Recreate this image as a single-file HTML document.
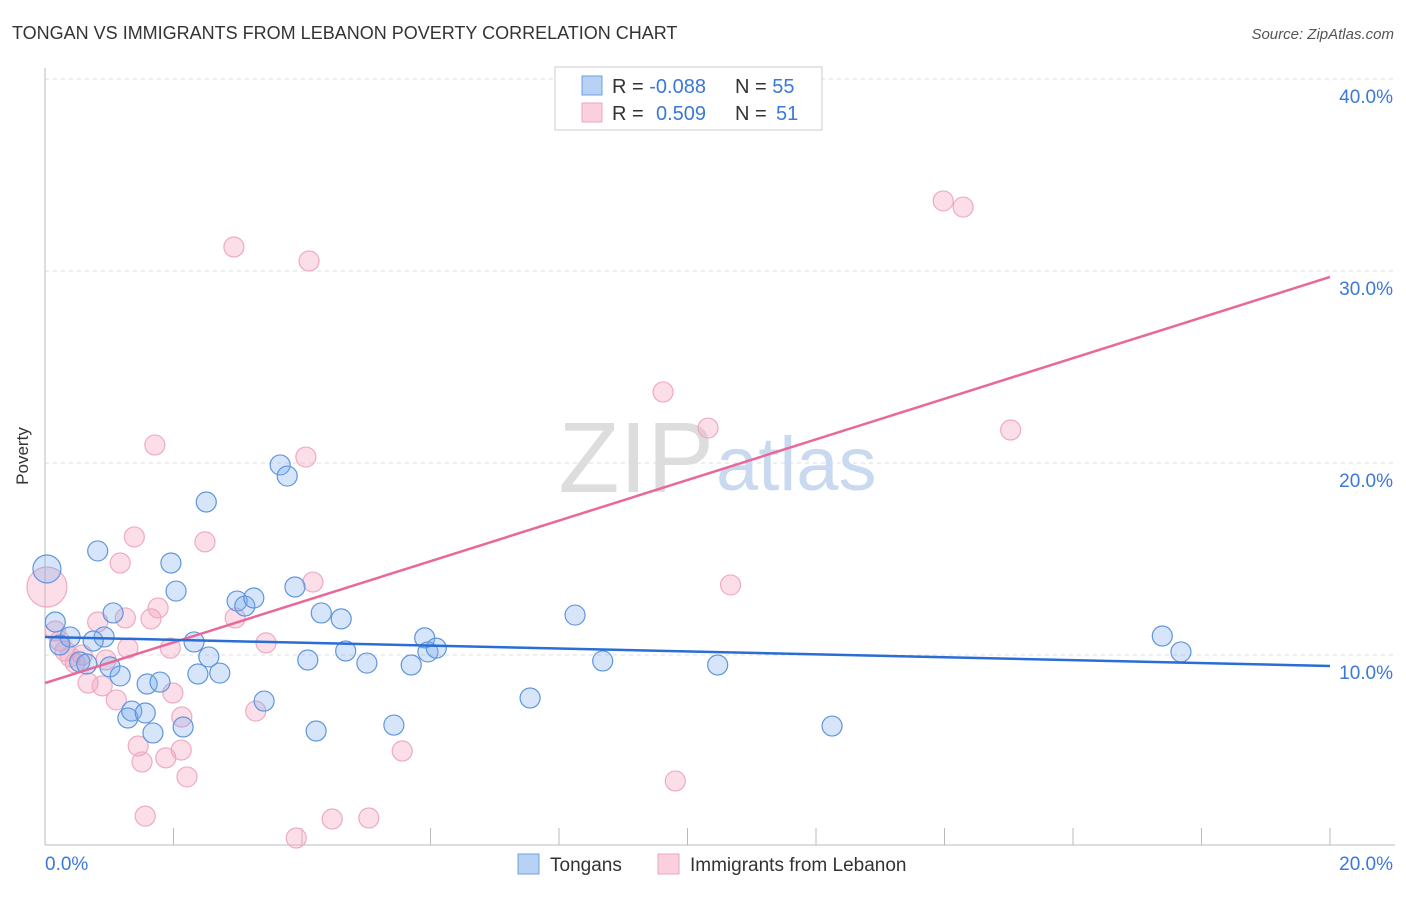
<!DOCTYPE html>
<html><head><meta charset="utf-8"><style>
body{margin:0;background:#fff;font-family:"Liberation Sans",sans-serif}
svg text{font-family:"Liberation Sans",sans-serif}
</style></head><body>
<svg width="1406" height="892" viewBox="0 0 1406 892" xmlns="http://www.w3.org/2000/svg">
<text x="12" y="39" font-size="18" fill="#333">TONGAN VS IMMIGRANTS FROM LEBANON POVERTY CORRELATION CHART</text>
<text x="1394" y="39" font-size="15" fill="#555" font-style="italic" text-anchor="end">Source: ZipAtlas.com</text>
<g id="grid"></g>
<text x="714" y="492" font-size="100" fill="#ddd" text-anchor="end" font-family="Liberation Serif">ZIP</text>
<text x="716" y="490" font-size="76" fill="#c9daf0">atlas</text>
<line x1="45" y1="68" x2="45" y2="845" stroke="#bbb"/>
<line x1="45" y1="845" x2="1395" y2="845" stroke="#bbb"/>
<text x="28" y="456" font-size="17" fill="#333" transform="rotate(-90 28 456)" text-anchor="middle">Poverty</text>
<text x="45" y="870" font-size="19" fill="#3b78d8">0.0%</text>
<text x="1393" y="870" font-size="19" fill="#3b78d8" text-anchor="end">20.0%</text>
<g id="marks"></g>
<g id="lines"></g>
<rect x="555" y="67" width="267" height="63" fill="#fff" stroke="#ccc"/>
<rect x="582" y="76" width="20" height="19" fill="#b7d2f4" stroke="#6fa0e0"/>
<rect x="582" y="103" width="20" height="19" fill="#fbd0de" stroke="#eea5be"/>
<text x="612" y="93" font-size="20" fill="#333">R = <tspan fill="#3b78d8">-0.088</tspan><tspan x="735">N = </tspan><tspan fill="#3b78d8">55</tspan></text>
<text x="612" y="120" font-size="20" fill="#333">R = <tspan x="656" fill="#3b78d8">0.509</tspan><tspan x="735">N = </tspan><tspan x="776" fill="#3b78d8">51</tspan></text>
<rect x="518" y="854" width="21" height="20" fill="#b7d2f4" stroke="#6fa0e0"/>
<text x="550" y="871" font-size="19" fill="#333">Tongans</text>
<rect x="658" y="854" width="21" height="20" fill="#fbd0de" stroke="#eea5be"/>
<text x="690" y="871" font-size="19" fill="#333">Immigrants from Lebanon</text>
</svg>
<script>
const yTicks=[10,20,30,40];
const yTickLabels=["10.0%","20.0%","30.0%","40.0%"];
const xTicks=[0,2,4,6,8,10,12,14,16,18,20];
const tonganX=[0.03,0.16,0.39,0.23,0.82,0.92,1.06,0.75,0.54,0.65,1.01,1.17,1.59,1.79,1.29,1.35,1.56,1.68,1.96,2.04,2.51,2.32,2.55,2.38,2.72,2.15,2.99,3.11,3.25,3.41,3.66,3.77,3.89,4.09,4.22,4.30,4.61,4.68,5.01,5.43,5.70,5.91,5.96,6.09,7.55,8.25,8.68,10.47,12.25,17.39,17.68];
const tonganY=[14.48,11.72,10.94,10.52,15.42,10.94,12.19,10.73,9.64,9.53,9.38,8.91,8.49,8.59,6.72,7.08,6.98,5.94,14.79,13.33,17.97,10.68,9.90,9.01,9.06,6.25,12.81,12.55,12.97,7.60,19.90,19.32,13.54,9.74,6.04,12.19,11.88,10.21,9.58,6.35,9.48,10.89,10.16,10.36,7.76,12.08,9.69,9.48,6.30,10.99,10.16];
const lebX=[0.03,0.16,0.23,0.31,0.39,0.47,0.58,0.67,0.82,0.89,0.95,1.11,1.17,1.25,1.29,1.39,1.45,1.51,1.56,1.65,1.71,1.76,1.88,1.95,1.99,2.12,2.13,2.21,2.49,2.94,2.96,3.28,3.44,3.91,4.06,4.11,4.17,4.47,5.04,5.56,9.62,9.81,10.32,10.67,13.98,14.29,15.03];
const lebY=[13.54,11.25,10.73,10.21,9.90,9.58,10.00,8.54,11.72,8.39,9.74,7.66,14.79,11.93,10.36,16.15,5.26,4.43,1.61,11.88,20.94,12.45,4.64,10.36,8.02,5.05,6.77,3.65,15.89,31.25,11.93,7.08,10.63,0.47,20.31,30.52,13.80,1.46,1.51,5.00,23.70,3.44,21.82,13.65,33.65,33.33,21.72];
const tonganTrend=[10.94,9.43];
const lebTrend=[8.54,29.69];
const NS="http://www.w3.org/2000/svg";
const sx=v=>45+v/20*1285;
const sy=v=>847-v*19.2;
function mk(tag,attrs,parent){const e=document.createElementNS(NS,tag);for(const k in attrs)e.setAttribute(k,attrs[k]);parent.appendChild(e);return e;}
const grid=document.getElementById('grid');
yTicks.forEach((t,i)=>{
 const l=mk('line',{x1:45,x2:1395,y1:sy(t),y2:sy(t),stroke:'#ddd','stroke-dasharray':'4,4'},grid);
 
 
 const tx=mk('text',{x:1393,y:sy(t)+24,'font-size':19,fill:'#3b78d8','text-anchor':'end'},grid);
 tx.textContent=yTickLabels[i];
 
 
});
xTicks.forEach(t=>{
 const l=mk('line',{x1:sx(t),x2:sx(t),y1:828,y2:845,stroke:'#bbb'},grid);
 
 
});
const marks=document.getElementById('marks');
lebX.forEach((x,i)=>{
 const c=mk('circle',{cx:sx(x),cy:sy(lebY[i]),r:i===0?20:10,fill:'rgba(244,160,190,0.35)',stroke:'#eeaac2','stroke-width':1.2},marks);
 
 
});
tonganX.forEach((x,i)=>{
 const c=mk('circle',{cx:sx(x),cy:sy(tonganY[i]),r:i===0?14:10,fill:'rgba(120,170,235,0.3)',stroke:'#5f95dc','stroke-width':1.2},marks);
 
 
});
const lines=document.getElementById('lines');
const l1=mk('line',{x1:sx(0),y1:sy(lebTrend[0]),x2:sx(20),y2:sy(lebTrend[1]),stroke:'#e8689a','stroke-width':2.5},lines);


const l2=mk('line',{x1:sx(0),y1:sy(tonganTrend[0]),x2:sx(20),y2:sy(tonganTrend[1]),stroke:'#2a6dd4','stroke-width':2.5},lines);


</script>
</body></html>
